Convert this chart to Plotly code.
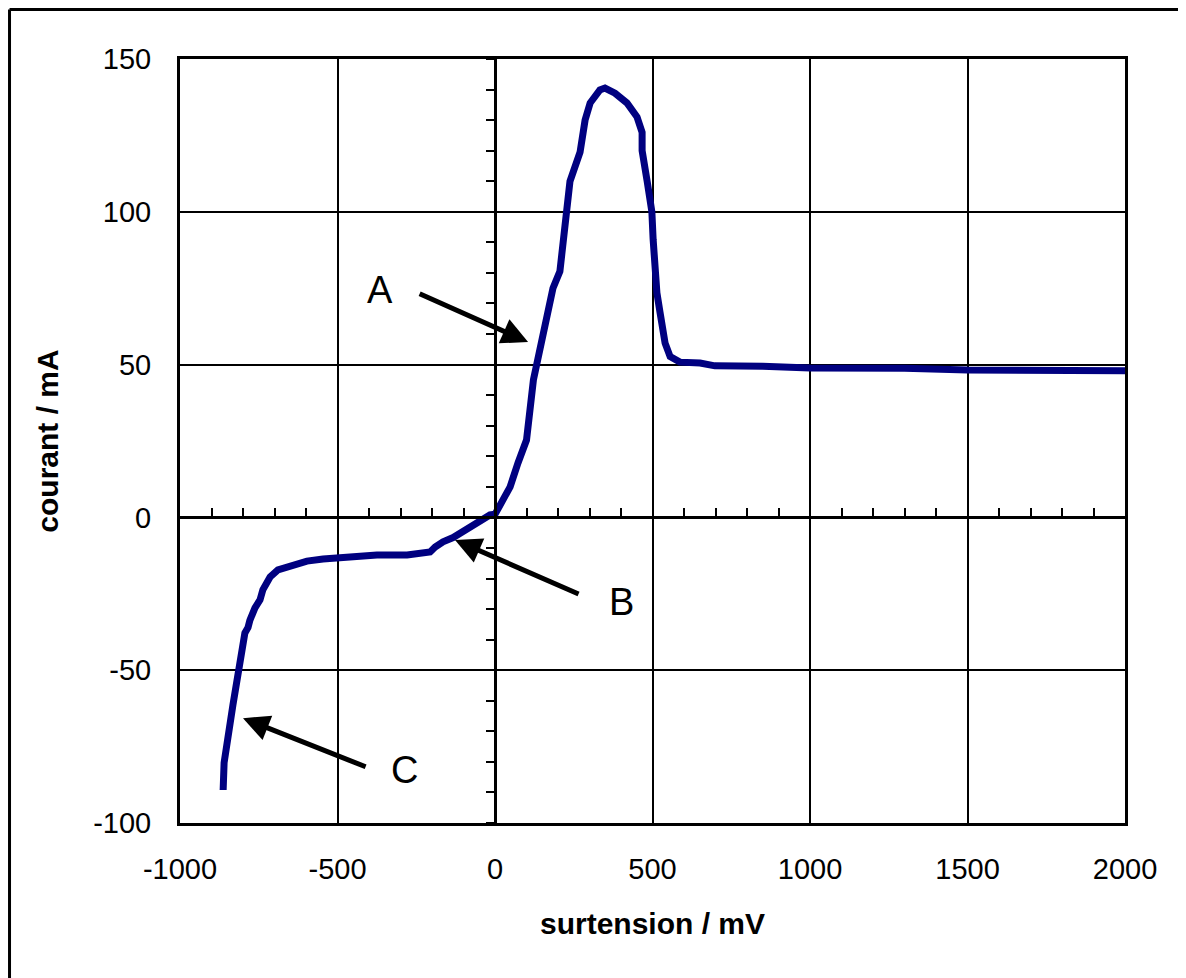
import plotly.graph_objects as go

# overpotential (mV) and current (mA)
surtension = [-863, -860, -832, -810, -800, -794, -784, -778, -762, -746, -737, -714, -689,
              -660, -629, -597, -546, -502, -451, -375, -279, -206, -190, -165, -133, -102,
              -48, -16, 0, 48, 73, 100, 122, 133, 152, 175, 184, 206, 216, 238, 270, 286,
              302, 333, 349, 381, 419, 451, 467, 467, 483, 498, 502, 508, 514, 524, 540,
              556, 587, 651, 698, 850, 1000, 1300, 1500, 2000]
courant = [-89.2, -80.3, -61.4, -49, -41.8, -37.8, -36, -33.6, -29.6, -27, -23.7, -19.5, -17.2,
           -16.2, -14.9, -14.3, -13.6, -13.2, -12.6, -12.3, -12.3, -11.3, -9.7, -8, -6.6, -4.7,
           -0.9, 0.8, 1.0, 10, 17.8, 25.3, 45, 50, 60, 70, 75, 80.5, 89.6, 110, 119.5, 130,
           135.6, 139.9, 140.5, 138.8, 135.6, 131, 126, 120, 110, 100, 91, 80, 73.5, 67, 57,
           52.6, 50.8, 50.5, 49.6, 49.5, 48.9, 48.8, 48.2, 48.0]

x_ticks = [-1000, -500, 0, 500, 1000, 1500, 2000]
x_ticktext = ["-1000", "-500", "0", "500", "1000", "1500", "2000"]
y_ticks = [-100, -50, 0, 50, 100, 150]
y_ticktext = ["-100", "-50", "0", "50", "100", "150"]

# arrow labels: text position, arrow tail, arrow head
labels = ["A", "B", "C"]
label_x = [-365, 403, -286]
label_y = [74.4, -27.6, -82.6]
tail_x = [-244, 270, -406]
tail_y = [73.4, -25.3, -81.8]
head_x = [105, -127, -800]
head_y = [57.4, -7.4, -65.7]

FONT = "Arial, Liberation Sans, sans-serif"

fig = go.Figure()
fig.add_trace(go.Scatter(x=surtension, y=courant, mode="lines",
                         line=dict(color="#000080", width=7), showlegend=False,
                         hoverinfo="skip"))
# empty trace so the zero-crossing axes get drawn
fig.add_trace(go.Scatter(x=[None], y=[None], xaxis="x2", yaxis="y2", showlegend=False))

for lab, lx, ly in zip(labels, label_x, label_y):
    fig.add_annotation(x=lx, y=ly, text=lab, showarrow=False,
                       font=dict(family=FONT, size=38, color="black"))
for tx, ty, hx, hy in zip(tail_x, tail_y, head_x, head_y):
    fig.add_annotation(x=hx, y=hy, ax=tx, ay=ty, axref="x", ayref="y", text="",
                       showarrow=True, arrowhead=2, arrowsize=1.05, arrowwidth=5,
                       arrowcolor="black")

fig.update_layout(
    width=1186, height=978,
    margin=dict(l=172, r=69, t=51, b=163),
    plot_bgcolor="white", paper_bgcolor="white",
    font=dict(family=FONT, size=29, color="black"),
    xaxis=dict(range=[-1000, 2000], tickvals=x_ticks, ticktext=x_ticktext,
               showgrid=True, gridcolor="black",
               gridwidth=2, showline=True, linecolor="black", linewidth=3, mirror=True,
               zeroline=False, ticks="", ticklabelstandoff=18,
               title=dict(text="<b>surtension / mV</b>", font=dict(size=30), standoff=30)),
    yaxis=dict(range=[-100, 150], tickvals=y_ticks, ticktext=y_ticktext,
               showgrid=True, gridcolor="black",
               gridwidth=2, showline=True, linecolor="black", linewidth=3, mirror=True,
               zeroline=False, ticks="", ticklabelstandoff=20,
               title=dict(text="<b>courant / mA</b>", font=dict(size=30), standoff=26)),
    xaxis2=dict(overlaying="x", anchor="free", position=0.4, range=[-1000, 2000],
                showgrid=False, zeroline=False, showline=True, linecolor="black",
                linewidth=3, showticklabels=False, ticks="inside", dtick=500,
                ticklen=8, tickwidth=2, tickcolor="black",
                minor=dict(dtick=100, ticks="inside", ticklen=8, tickwidth=2,
                           tickcolor="black")),
    yaxis2=dict(overlaying="y", anchor="free", position=1 / 3, range=[-100, 150],
                showgrid=False, zeroline=False, showline=True, linecolor="black",
                linewidth=3, showticklabels=False, ticks="outside", dtick=50,
                ticklen=8, tickwidth=2, tickcolor="black",
                minor=dict(dtick=10, ticks="outside", ticklen=8, tickwidth=2,
                           tickcolor="black")),
)

# frame around the chart (top and left edges visible)
fig.add_shape(type="line", xref="paper", yref="paper", x0=-0.1804, x1=1.08,
              y0=1.0648, y1=1.0648, line=dict(color="black", width=3))
fig.add_shape(type="line", xref="paper", yref="paper", x0=-0.1804, x1=-0.1804,
              y0=1.0648, y1=-0.22, line=dict(color="black", width=3))

fig.write_html("out.html")
